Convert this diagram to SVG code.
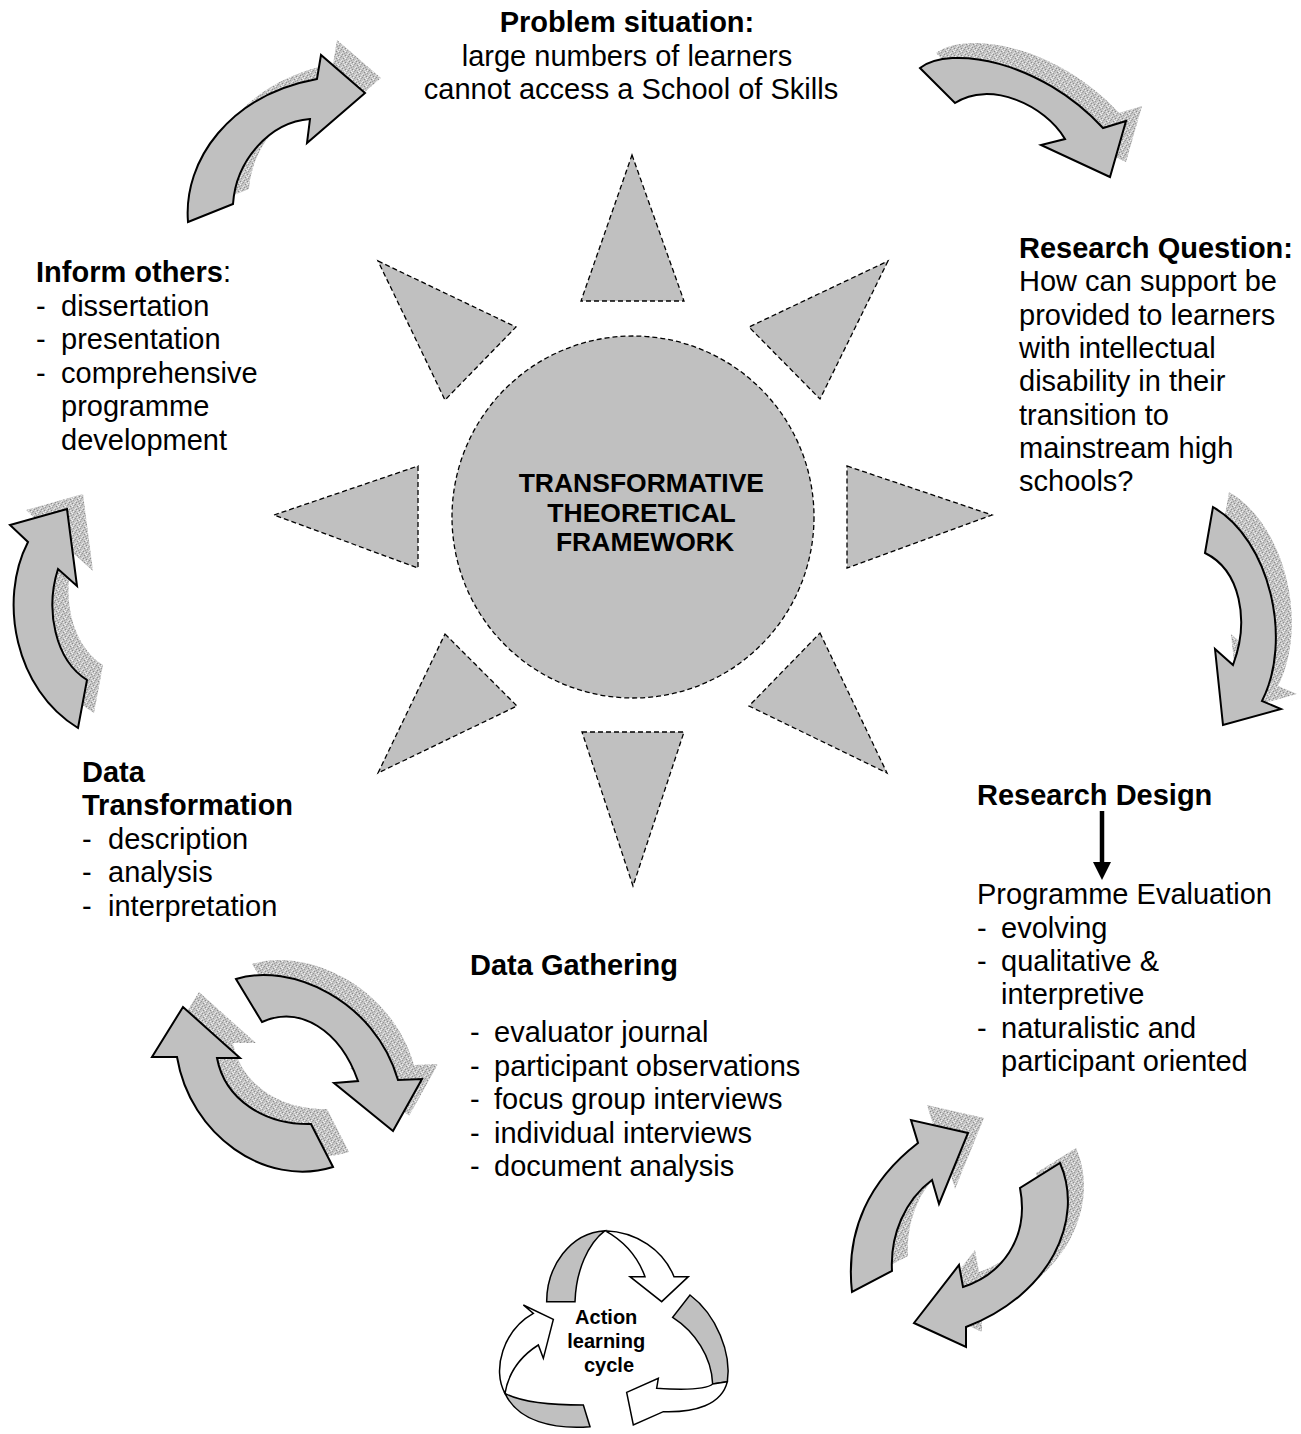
<svg xmlns="http://www.w3.org/2000/svg" xmlns:xlink="http://www.w3.org/1999/xlink" width="1301" height="1434" viewBox="0 0 1301 1434">
  <style>
    .t { font-family: "Liberation Sans", Arial, sans-serif; font-size: 29px; fill: #000; }
    .b { font-weight: bold; }
    .ray { fill: #c0c0c0; stroke: #000; stroke-width: 1.3; stroke-dasharray: 5 3; }
    .arr { fill: #c0c0c0; stroke: #000; stroke-width: 2; stroke-linejoin: miter; }
    .shd { fill: url(#grain); stroke: none; }
    .alc { stroke: #000; stroke-width: 4.5; stroke-linejoin: miter; }
  </style>
  <defs>
    <!-- speckled fill used for the drop shadows -->
    <pattern id="grain" width="7" height="7" patternUnits="userSpaceOnUse">
      <rect width="7" height="7" fill="#c4c4c4"/>
      <rect x="0" y="0" width="1" height="1" fill="#8a8a8a"/>
      <rect x="3" y="1" width="1" height="1" fill="#969696"/>
      <rect x="5" y="3" width="1" height="1" fill="#8a8a8a"/>
      <rect x="1" y="4" width="1" height="1" fill="#9a9a9a"/>
      <rect x="4" y="6" width="1" height="1" fill="#8e8e8e"/>
      <rect x="6" y="5" width="1" height="1" fill="#a0a0a0"/>
      <rect x="2" y="2" width="1" height="1" fill="#a4a4a4"/>
      <rect x="1" y="1" width="1" height="1" fill="#f2f2f2"/>
      <rect x="5" y="0" width="1" height="1" fill="#ebebeb"/>
      <rect x="0" y="3" width="1" height="1" fill="#f4f4f4"/>
      <rect x="3" y="5" width="1" height="1" fill="#e8e8e8"/>
      <rect x="6" y="2" width="1" height="1" fill="#ececec"/>
      <rect x="2" y="6" width="1" height="1" fill="#e2e2e2"/>
      <rect x="4" y="4" width="1" height="1" fill="#dedede"/>
    </pattern>
    <!-- curved block arrows -->
    <path id="arTL" d="M188,222 C183,160 230,95 317,79 L321,55 L365,93 L307,143 L310,119 C270,122 236,160 233,204 Z"/>
    <path id="arTR" d="M920,68 C950,45 1040,60 1103,128 L1126,121 L1110,177 L1041,145 L1065,139 C1045,105 990,80 955,103 Z"/>
    <path id="arR" d="M1213,507 C1270,540 1293,640 1262,701 L1281,709 L1223,725 L1215,649 L1233,665 C1250,620 1240,570 1205,553 Z"/>
    <path id="arL" d="M78,728 C15,690 -2,600 28,542 L10,525 L67,509 L77,586 L58,569 C45,610 55,660 87,680 Z"/>
    <path id="arBL1" d="M236,979 C290,962 375,1000 398,1080 L422,1079 L393,1131 L334,1083 L358,1081 C340,1030 300,1005 262,1022 Z"/>
    <path id="arBL2" d="M333,1167 C265,1188 190,1135 177,1057 L152,1057 L183,1007 L240,1058 L217,1058 C225,1100 265,1125 311,1124 Z"/>
    <path id="arBR1" d="M852,1292 C845,1230 870,1180 918,1143 L911,1120 L968,1133 L939,1204 L932,1180 C905,1200 890,1235 892,1271 Z"/>
    <path id="arBR2" d="M1060,1163 C1085,1220 1050,1295 966,1327 L966,1347 L914,1323 L959,1265 L963,1287 C1000,1275 1030,1240 1020,1188 Z"/>
  </defs>

  <rect width="1301" height="1434" fill="#fff"/>

  <!-- central sun -->
  <g id="framework">
    <polygon class="ray" points="632,155 684,301 581,301"/>
    <polygon class="ray" points="582,732 684,732 633,886"/>
    <polygon class="ray" points="274,515 418,466 418,568"/>
    <polygon class="ray" points="847,466 992,515 847,568"/>
    <polygon class="ray" points="378,261 516,327 445,400"/>
    <polygon class="ray" points="888,261 820,399 749,327"/>
    <polygon class="ray" points="445,634 517,706 378,773"/>
    <polygon class="ray" points="820,633 887,773 749,706"/>
    <circle class="ray" cx="633" cy="517" r="181"/>
    <text class="t b" text-anchor="middle" style="font-size:26.5px">
      <tspan x="645" y="492">TRANSFORMATIVE</tspan>
      <tspan x="645" y="522">THEORETICAL</tspan>
      <tspan x="645" y="551">FRAMEWORK</tspan>
    </text>
  </g>

  <g id="problem-situation">
    <text class="t" text-anchor="middle">
      <tspan class="b" x="631" y="32">Problem situation:</tspan>
      <tspan x="631" y="65.5">large numbers of learners</tspan>
      <tspan x="631" y="99">cannot access a School of Skills</tspan>
    </text>
  </g>

  <g id="research-question">
    <text class="t">
      <tspan class="b" x="1019" y="258">Research Question:</tspan>
      <tspan x="1019" y="291">How can support be</tspan>
      <tspan x="1019" y="325">provided to learners</tspan>
      <tspan x="1019" y="358">with intellectual</tspan>
      <tspan x="1019" y="391">disability in their</tspan>
      <tspan x="1019" y="425">transition to</tspan>
      <tspan x="1019" y="458">mainstream high</tspan>
      <tspan x="1019" y="491">schools?</tspan>
    </text>
  </g>

  <g id="research-design">
    <text class="t">
      <tspan class="b" x="977" y="805">Research Design</tspan>
      <tspan x="977" y="904">Programme Evaluation</tspan>
      <tspan x="977" y="937.5">-</tspan><tspan x="1001" y="937.5">evolving</tspan>
      <tspan x="977" y="971">-</tspan><tspan x="1001" y="971">qualitative &amp;</tspan>
      <tspan x="1001" y="1004">interpretive</tspan>
      <tspan x="977" y="1038">-</tspan><tspan x="1001" y="1038">naturalistic and</tspan>
      <tspan x="1001" y="1071">participant oriented</tspan>
    </text>
  </g>

  <g id="data-gathering">
    <text class="t">
      <tspan class="b" x="470" y="975">Data Gathering</tspan>
      <tspan x="470" y="1042">-</tspan><tspan x="494" y="1042">evaluator journal</tspan>
      <tspan x="470" y="1075.5">-</tspan><tspan x="494" y="1075.5">participant observations</tspan>
      <tspan x="470" y="1109">-</tspan><tspan x="494" y="1109">focus group interviews</tspan>
      <tspan x="470" y="1142.5">-</tspan><tspan x="494" y="1142.5">individual interviews</tspan>
      <tspan x="470" y="1176">-</tspan><tspan x="494" y="1176">document analysis</tspan>
    </text>
  </g>

  <g id="data-transformation">
    <text class="t">
      <tspan class="b" x="82" y="782">Data</tspan>
      <tspan class="b" x="82" y="815">Transformation</tspan>
      <tspan x="82" y="849">-</tspan><tspan x="108" y="849">description</tspan>
      <tspan x="82" y="882">-</tspan><tspan x="108" y="882">analysis</tspan>
      <tspan x="82" y="916">-</tspan><tspan x="108" y="916">interpretation</tspan>
    </text>
  </g>

  <g id="inform-others">
    <text class="t">
      <tspan class="b" x="36" y="282">Inform others</tspan><tspan>:</tspan>
      <tspan x="36" y="315.5">-</tspan><tspan x="61" y="315.5">dissertation</tspan>
      <tspan x="36" y="349">-</tspan><tspan x="61" y="349">presentation</tspan>
      <tspan x="36" y="382.5">-</tspan><tspan x="61" y="382.5">comprehensive</tspan>
      <tspan x="61" y="416">programme</tspan>
      <tspan x="61" y="449.5">development</tspan>
    </text>
  </g>

  <!-- action learning cycle: three twisted ribbon arrows -->
  <g id="action-learning-cycle">
    <g transform="translate(490,1230) scale(0.33333)">
      <path class="alc" fill="#c0c0c0" d="M170,215 C170,110 240,8 345,2 C295,40 258,120 255,215 Z"/>
      <path class="alc" fill="#fff" d="M345,2 C440,5 520,60 552,140 L595,140 L515,215 L420,140 L465,140 C445,85 405,35 345,2 Z"/>
      <path class="alc" fill="#c0c0c0" d="M600,195 C680,255 725,370 712,455 L668,462 C665,380 615,305 548,262 Z"/>
      <path class="alc" fill="#fff" d="M712,455 C695,525 615,548 520,545 L430,585 L410,487 L505,445 L500,475 C580,480 650,478 668,462 Z"/>
      <path class="alc" fill="#c0c0c0" d="M280,525 L300,590 C190,598 85,575 45,490 C100,520 190,525 280,525 Z"/>
      <path class="alc" fill="#fff" d="M45,490 C5,420 40,300 130,250 L100,225 L190,268 L160,385 L145,345 C90,380 55,430 45,490 Z"/>
    </g>
    <text class="t b" text-anchor="middle" style="font-size:20px">
      <tspan x="609" y="1324">Action</tspan>
      <tspan x="609" y="1348">learning</tspan>
      <tspan x="609" y="1372">cycle</tspan>
    </text>
  </g>

  <!-- connectors -->
  <g id="connectors">
    <use xlink:href="#arTL" class="shd" transform="translate(16,-15)"/>
    <use xlink:href="#arTL" class="arr"/>
    <use xlink:href="#arTR" class="shd" transform="translate(16,-15)"/>
    <use xlink:href="#arTR" class="arr"/>
    <use xlink:href="#arR" class="shd" transform="translate(16,-15)"/>
    <use xlink:href="#arR" class="arr"/>
    <use xlink:href="#arL" class="shd" transform="translate(16,-15)"/>
    <use xlink:href="#arL" class="arr"/>
    <use xlink:href="#arBL1" class="shd" transform="translate(16,-15)"/>
    <use xlink:href="#arBL1" class="arr"/>
    <use xlink:href="#arBL2" class="shd" transform="translate(16,-15)"/>
    <use xlink:href="#arBL2" class="arr"/>
    <use xlink:href="#arBR1" class="shd" transform="translate(16,-15)"/>
    <use xlink:href="#arBR1" class="arr"/>
    <use xlink:href="#arBR2" class="shd" transform="translate(16,-15)"/>
    <use xlink:href="#arBR2" class="arr"/>
    <!-- Research Design to Programme Evaluation -->
    <line x1="1102" y1="811" x2="1102" y2="864" stroke="#000" stroke-width="4.5"/>
    <polygon points="1093,862 1111,862 1102,880" fill="#000"/>
  </g>
</svg>
